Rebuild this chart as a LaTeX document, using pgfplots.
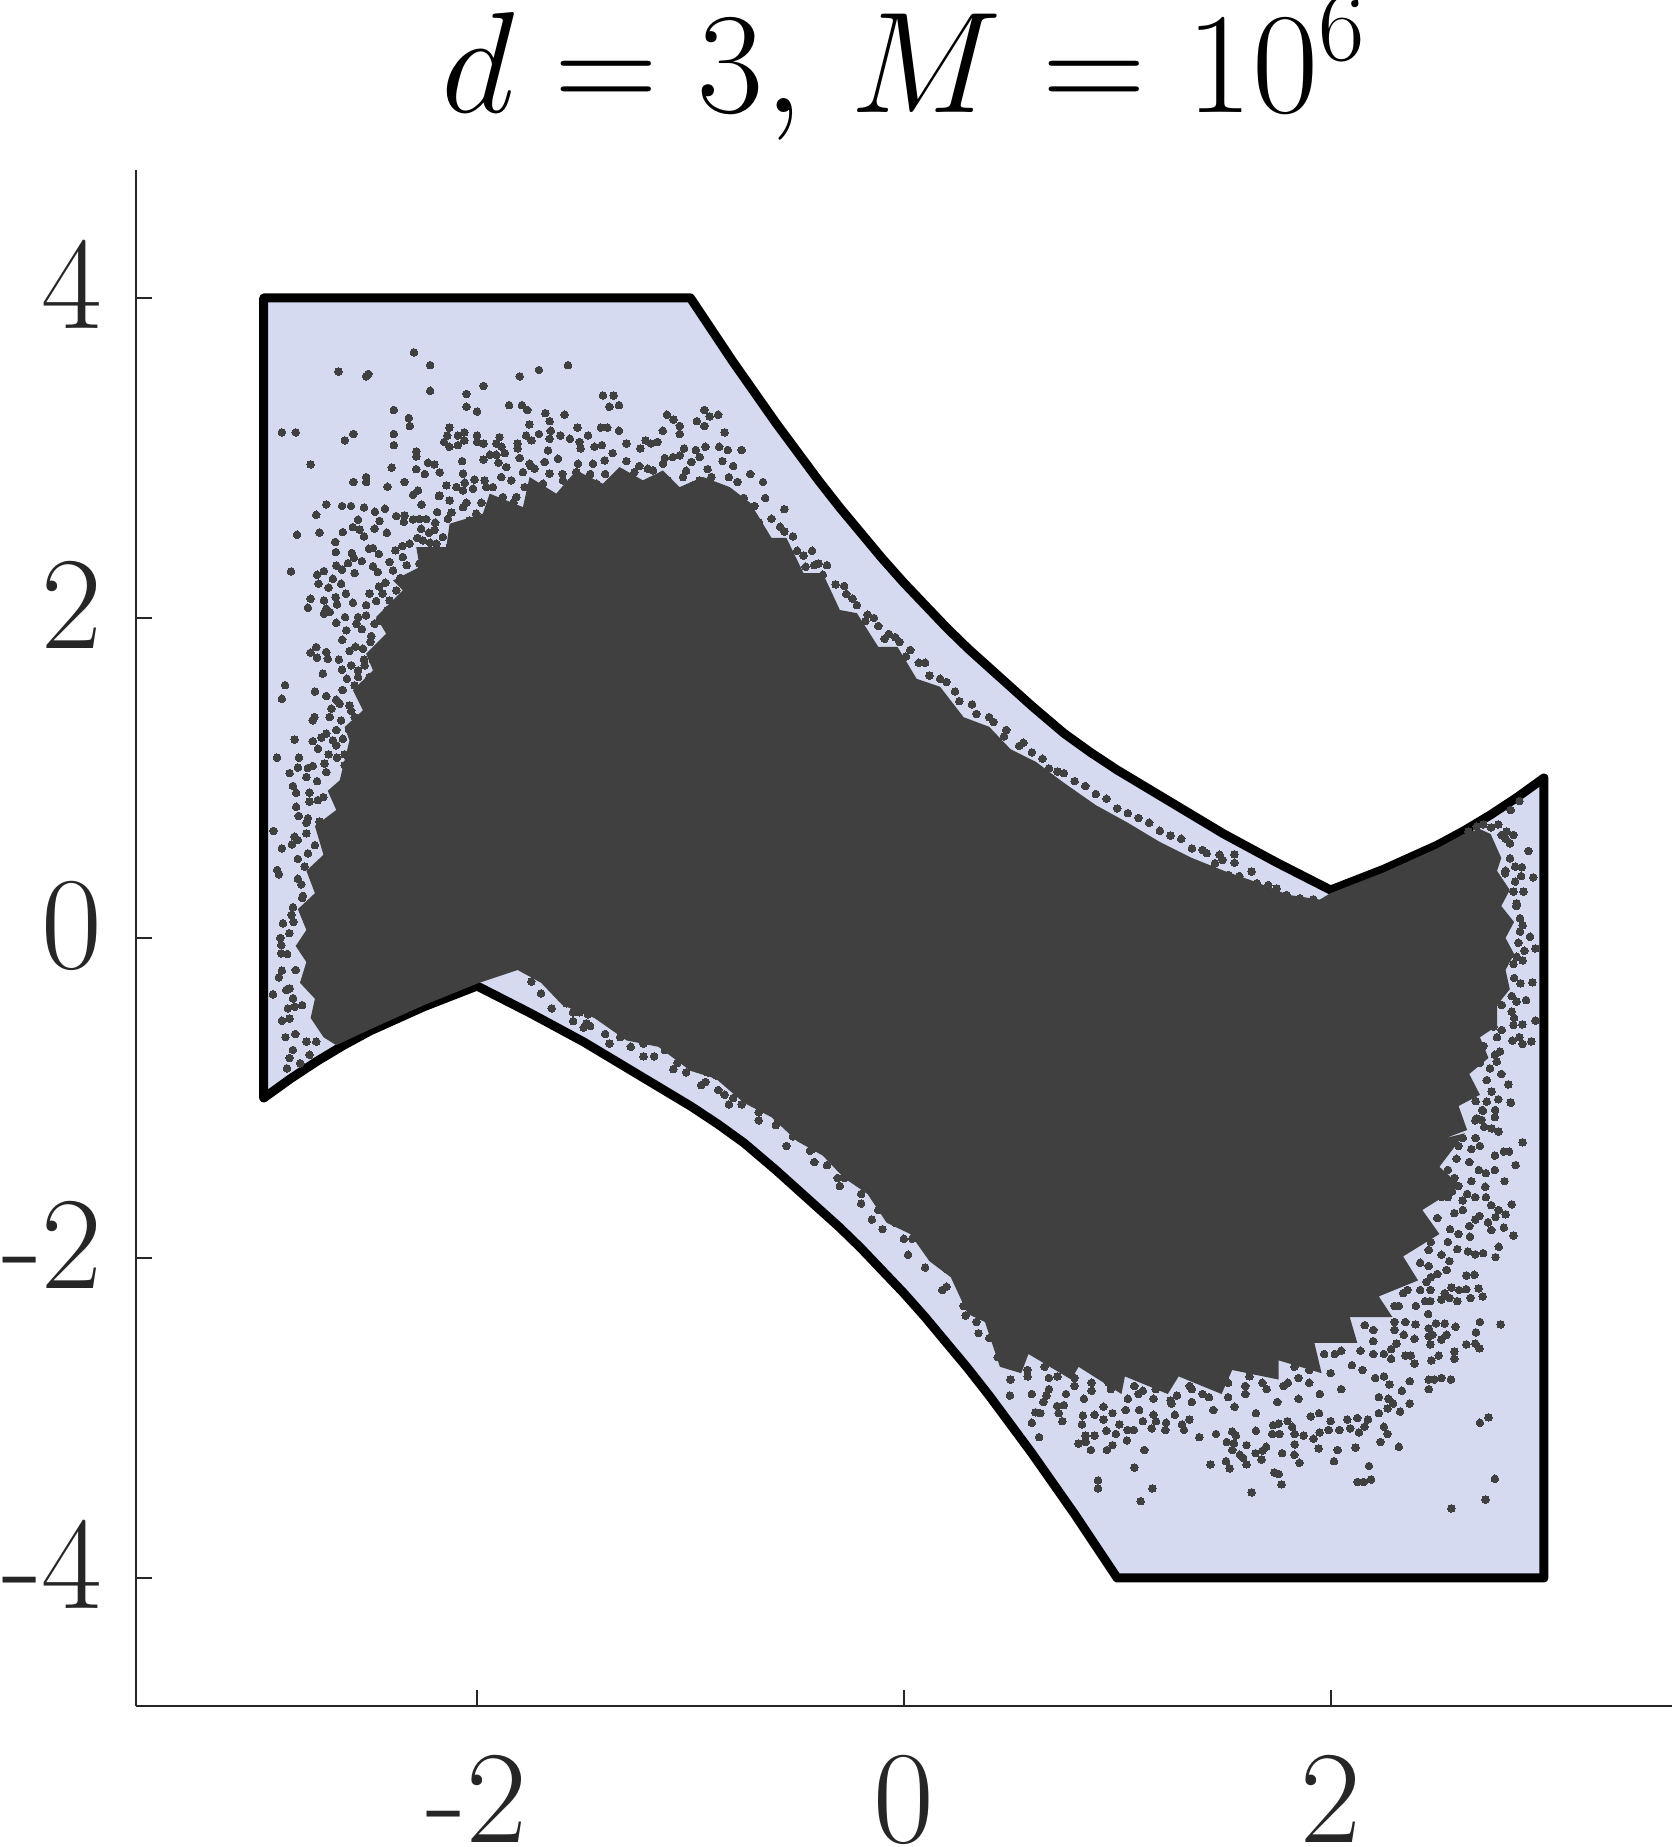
\RequirePackage{fix-cm}
\documentclass[border=0pt]{standalone}
\usepackage{pgfplots}
\pgfplotsset{compat=1.18}
\DeclareMathSizes{36}{36}{25.2}{18}
\definecolor{regionfill}{RGB}{213,218,241}
\definecolor{cloud}{RGB}{64,64,64}
\definecolor{axgray}{RGB}{38,38,38}
\begin{document}
\begin{tikzpicture}[x=1pt,y=1pt]
\path[use as bounding box] (0,0) rectangle (418,461.75);
\begin{axis}[
  at={(33.925pt,35.25pt)},anchor=south west,
  scale only axis,width=384.07pt,height=384pt,
  xmin=-3.6,xmax=3.6,ymin=-4.8,ymax=4.8,
  axis x line*=bottom,axis y line*=left,
  axis line style={-,draw=axgray,line width=0.5pt},
  tick style={draw=axgray,line width=0.5pt},
  tick align=inside,major tick length=4pt,
  xtick={-2,0,2},xticklabels={-2,0,2},
  ytick={-4,-2,0,2,4},yticklabels={-4,-2,0,2,4},
  ticklabel style={text=axgray,font=\fontsize{33}{33}\selectfont,inner sep=0pt,outer sep=0pt},
  xticklabel style={anchor=base,yshift=-34pt},
  yticklabel style={anchor=base east,xshift=-8.3pt,yshift=-7.7pt},
  clip=false,
]
% feasible region
\addplot[fill=regionfill,draw=black,line width=2.25pt,line join=round,line cap=round] coordinates {
(-3,4)(-1,4)(-.9,3.8)(-.8,3.6)(-.7,3.41)(-.6,3.22)(-.5,3.04)(-.4,2.86)(-.3,2.69)(-.2,2.53)(-.1,2.37)(0,2.22)(.1,2.08)(.2,1.94)(.3,1.81)(.4,1.69)(.5,1.57)(.6,1.45)(.75,1.28)(.875,1.16)(1,1.05)(1.125,.95)(1.25,.85)(1.375,.75)(1.5,.65)(1.625,.56)(1.75,.47)(1.875,.385)(2,.3)(2.125,.365)(2.25,.43)(2.375,.505)(2.5,.58)(2.625,.67)(2.75,.77)(2.875,.88)(3,1)
(3,-4)(1,-4)(.9,-3.8)(.8,-3.6)(.7,-3.41)(.6,-3.22)(.5,-3.04)(.4,-2.86)(.3,-2.69)(.2,-2.53)(.1,-2.37)(0,-2.22)(-.1,-2.08)(-.2,-1.94)(-.3,-1.81)(-.4,-1.69)(-.5,-1.57)(-.6,-1.45)(-.75,-1.28)(-.875,-1.16)(-1,-1.05)(-1.125,-.95)(-1.25,-.85)(-1.375,-.75)(-1.5,-.65)(-1.625,-.56)(-1.75,-.47)(-1.875,-.385)(-2,-.3)(-2.125,-.365)(-2.25,-.43)(-2.375,-.505)(-2.5,-.58)(-2.625,-.67)(-2.75,-.77)(-2.875,-.88)(-3,-1)(-3,4)};
% saturated part of the cloud
\addplot[fill=cloud,draw=none] coordinates {
(-2.644,.985)(-2.598,1.235)(-2.621,1.318)(-2.535,1.423)(-2.582,1.548)(-2.488,1.673)(-2.52,1.777)(-2.426,1.902)(-2.473,2.006)(-2.348,2.173)(-2.394,2.235)(-2.269,2.318)(-2.285,2.443)(-2.144,2.443)(-2.129,2.589)(-1.973,2.652)(-1.941,2.777)(-1.785,2.693)(-1.754,2.881)(-1.629,2.777)(-1.535,2.922)(-1.41,2.839)(-1.332,2.943)(-1.223,2.86)(-1.129,2.922)(-1.051,2.818)(-.941,2.881)(-.816,2.818)
(-.72,2.72)(-.62,2.5)(-.55,2.5)(-.47,2.28)(-.38,2.28)(-.3,2.05)(-.22,2.03)(-.12,1.82)(-.03,1.82)(.06,1.62)(.17,1.57)(.28,1.38)(.4,1.32)(.5,1.18)(.62,1.1)(.75,.97)(.9,.83)(1.05,.72)(1.2,.6)(1.35,.5)(1.5,.42)(1.65,.35)(1.8,.27)(1.95,.24)(2,.28)(2.25,.41)(2.5,.56)(2.625,.65)(2.7,.68)(2.75,.65)(2.8,.5)(2.78,.42)(2.84,.3)(2.8,.2)(2.86,.1)(2.82,0)(2.86,-.1)(2.82,-.2)(2.84,-.32)(2.78,-.42)(2.78,-.55)(2.7,-.62)(2.74,-.75)(2.65,-.85)(2.7,-.98)(2.6,-1.05)(2.64,-1.2)(2.54,-1.25)
(2.63,-1.22)(2.51,-1.43)(2.61,-1.55)(2.43,-1.7)(2.51,-1.85)(2.34,-1.99)(2.41,-2.14)(2.226,-2.24)(2.29,-2.37)(2.09,-2.37)(2.125,-2.53)(1.924,-2.53)(1.958,-2.72)(1.757,-2.64)(1.757,-2.76)(1.539,-2.7)(1.489,-2.85)(1.288,-2.74)(1.237,-2.85)(1.036,-2.74)(1.02,-2.85)(.819,-2.68)(.785,-2.76)(.584,-2.6)(.55,-2.72)(.45,-2.68)
(.38,-2.4)(.3,-2.35)(.22,-2.12)(.12,-2.02)(.03,-1.85)(-.08,-1.78)(-.17,-1.6)(-.28,-1.5)(-.38,-1.36)(-.5,-1.27)(-.62,-1.12)(-.75,-1.03)(-.88,-.88)(-1,-.83)(-1.15,-.68)(-1.3,-.64)(-1.45,-.5)(-1.6,-.42)(-1.7,-.28)(-1.81,-.2)(-1.99,-.28)(-2.25,-.42)(-2.5,-.57)(-2.66,-.67)
(-2.72,-.62)(-2.78,-.5)(-2.76,-.38)(-2.83,-.28)(-2.8,-.15)(-2.85,-.05)(-2.8,.05)(-2.84,.18)(-2.76,.28)(-2.8,.42)(-2.72,.52)(-2.76,.7)(-2.66,.8)(-2.7,.92)(-2.644,.985)};
% individual samples
\addplot[color=cloud,only marks,mark=*,mark size=0.95pt,mark options={solid,draw=cloud,fill=cloud,line width=0pt}] coordinates {
(-2.296,3.66)(-2.22,3.58)(-2.65,3.54)(-2.52,3.51)(-2.51,3.525)(-1.71,3.55)(-1.574,3.58)(-1.8,3.51)(-2.22,3.42)(-1.97,3.45)(-2.05,3.4)(-2.05,3.32)(-2,3.29)(-2.39,3.3)(-1.85,3.33)(-1.79,3.33)(-1.765,3.3)(-1.41,3.39)(-1.36,3.39)(-1.38,3.32)(-1.335,3.33)(-1.68,3.28)(-1.59,3.27)(-2.32,3.25)(-2.315,3.2)(-1.66,3.23)(-1.755,3.21)(-2.915,3.16)(-2.85,3.16)(-2.58,3.15)(-2.62,3.11)(-2.39,3.15)(-2.39,3.08)(-2.78,2.96)(-2.58,2.85)(-2.52,2.88)(-2.52,2.85)(-2.42,2.82)(-2.34,2.85)(-2.4,2.94)(-2.285,3.04)(-2.285,3.01)(-2.285,2.93)(-2.23,2.97)(-2.245,2.9)(-2.2,2.96)(-2.175,2.91)
(-2.13,3.19)(-2.14,3.14)(-2.09,3.14)(-2.06,3.16)(-2.155,3.1)(-2.09,3.08)(-2.06,3.11)(-2.13,3.07)(-2,3.14)(-2,3.1)(-1.97,3.09)(-2.07,2.98)(-1.895,3.13)(-1.91,3.09)(-1.885,3.07)(-1.87,3.03)(-1.91,3.02)(-1.94,3.02)(-1.97,2.99)(-1.9,2.97)(-1.81,3.09)(-1.81,3.06)(-1.8,3)(-1.77,3.14)(-1.745,3.11)(-1.71,3.15)(-1.66,3.12)(-1.61,3.14)(-1.565,3.12)(-1.655,3.17)(-1.53,3.19)(-1.42,3.19)(-1.39,3.19)(-1.335,3.17)(-1.48,3.14)(-1.52,3.1)(-1.515,3.06)(-1.45,3.07)(-1.415,3.08)(-1.3,3.09)(-1.365,3.03)(-1.235,3.06)(-1.21,3.11)(-1.155,3.1)(-1.185,3.09)(-1.13,3.17)(-1.11,3.27)(-1.08,3.24)(-1.05,3.2)(-1.05,3.15)(-.97,3.23)(-.935,3.3)(-.91,3.26)(-.87,3.27)(-.935,3.2)(-.84,3.16)(-.865,3.07)(-.825,3.05)(-.93,3.07)(-.975,3.05)(-1.03,3.06)(-.85,2.98)
(-1.129,2.964)(-1.082,3.006)(-1.05,3.016)(-.996,2.975)(-.957,3.006)(-1.2,2.933)(-1.176,2.923)(-1.262,2.912)(-1.324,2.902)(-1.402,2.985)(-1.457,2.964)(-1.527,2.964)(-1.535,2.912)(-1.621,2.995)(-1.668,3.047)(-1.683,2.975)(-1.66,2.902)(-1.73,2.933)(-1.754,2.964)(-1.785,2.912)(-1.863,2.943)(-1.84,2.86)(-1.887,2.881)(-1.965,2.86)(-2.012,2.864)(-2.066,2.902)(-2.058,2.845)(-2.144,2.829)(-2.097,2.818)(-2.176,2.766)(-2.129,2.735)(-2.066,2.797)(-2.019,2.808)(-1.957,2.818)(-1.926,2.818)(-1.879,2.756)(-1.816,2.756)(-1.777,2.818)(-1.746,2.777)(-1.691,2.839)(-1.598,2.86)(-1.52,2.818)(-1.441,2.839)(-1.363,2.86)(-1.277,2.881)(-1.191,2.839)(-1.105,2.86)(-1.035,2.881)(-.957,2.86)(-.902,2.881)(-.832,2.797)(-.91,2.808)(-.988,2.829)(-1.066,2.787)(-1.144,2.808)
(-2.066,2.693)(-2.004,2.652)(-2.035,2.61)(-2.066,2.548)(-2.16,2.506)(-2.191,2.464)(-2.129,2.443)(-2.254,2.485)(-2.316,2.464)(-2.348,2.381)(-2.27,2.339)(-2.207,2.381)(-2.394,2.297)(-2.316,2.235)(-2.379,2.172)(-2.41,2.11)(-2.473,1.8)(-2.41,1.881)(-2.488,1.735)(-2.504,1.631)(-2.535,1.527)(-2.52,1.318)(-2.566,1.256)(-2.566,1.131)
(-2.938,1.127)(-2.9,1.58)(-2.915,1.495)(-2.872,2.29)(-2.844,2.52)(-2.754,2.645)(-2.707,2.71)(-2.633,2.7)(-2.591,2.7)(-2.53,2.69)(-2.479,2.664)(-2.432,2.683)(-2.738,2.533)(-2.629,2.537)(-2.665,2.475)(-2.662,2.412)(-2.587,2.406)(-2.577,2.375)(-2.54,2.356)(-2.605,2.343)(-2.558,2.614)(-2.582,2.568)(-2.55,2.552)(-2.53,2.51)(-2.457,2.606)(-2.48,2.558)(-2.423,2.533)(-2.379,2.637)(-2.34,2.641)(-2.343,2.6)(-2.3,2.616)(-2.27,2.618)(-2.238,2.618)(-2.262,2.558)(-2.226,2.533)(-2.187,2.662)(-2.196,2.595)(-2.137,2.62)(-2.277,2.797)(-2.3,2.77)(-2.26,2.708)(-2.179,2.762)
(-2.75,2.27)(-2.718,2.293)(-2.676,2.245)(-2.743,2.214)(-2.696,2.189)(-2.637,2.214)(-2.66,2.327)(-2.633,2.302)(-2.574,2.281)(-2.663,2.13)(-2.615,2.152)(-2.78,2.12)(-2.793,2.064)(-2.718,2.11)(-2.657,2.085)(-2.582,2.095)(-2.707,2.058)(-2.718,2.027)(-2.691,2.037)(-2.507,2.433)(-2.488,2.437)(-2.46,2.4)(-2.383,2.423)(-2.488,2.323)(-2.465,2.287)(-2.504,2.152)(-2.473,2.106)(-2.444,2.152)(-2.46,2.197)(-2.619,2.006)(-2.66,1.97)(-2.558,2.006)(-2.52,2.016)(-2.566,1.964)(-2.48,1.964)(-2.613,1.923)(-2.632,1.864)(-2.496,1.887)
(-2.754,1.818)(-2.78,1.783)(-2.75,1.752)(-2.707,1.787)(-2.7,1.745)(-2.598,1.793)(-2.535,1.808)(-2.648,1.74)(-2.633,1.677)(-2.723,1.652)(-2.59,1.704)(-2.558,1.672)(-2.527,1.704)(-2.76,1.54)(-2.707,1.512)(-2.66,1.489)(-2.644,1.464)(-2.598,1.454)(-2.574,1.579)(-2.558,1.631)(-2.683,1.433)(-2.691,1.381)(-2.77,1.36)(-2.762,1.381)(-2.637,1.36)(-2.574,1.381)(-2.855,1.24)(-2.77,1.23)(-2.707,1.277)(-2.73,1.252)(-2.676,1.235)(-2.629,1.245)(-2.66,1.204)(-2.746,1.183)(-2.835,1.127)(-2.696,1.148)(-2.621,1.148)(-2.657,1.127)(-2.879,1.03)(-2.84,1.065)(-2.793,1.062)(-2.77,1.075)(-2.715,1.09)(-2.707,1.037)(-2.8,1.006)(-2.621,1.08)
(-2.954,.669)(-2.915,.56)(-2.84,.494)(-2.937,.425)(-2.929,.398)(-2.824,.335)(-2.816,.263)(-2.863,.192)(-2.87,.144)(-2.91,.092)(-2.922,0)(-2.918,-.044)(-2.918,-.096)(-2.915,-.204)(-2.929,-.246)(-2.957,-.352)(-2.879,-.315)(-2.894,-.325)(-2.863,-.377)(-2.887,-.44)(-2.855,-.43)(-2.915,-.517)(-2.879,-.504)(-2.898,-.62)(-2.852,-.6)(-2.863,-.7)(-2.879,-.75)(-2.891,-.815)(-2.829,-.783)(-2.785,-.73)(-2.8,-.648)(-2.754,-.648)(-2.848,.82)(-2.836,.763)(-2.785,.852)(-2.746,.862)(-2.793,.748)(-2.738,.727)(-2.855,.633)(-2.84,.612)(-2.868,.585)(-2.8,.654)(-2.793,.529)(-2.808,.446)(-2.848,.908)(-2.863,.95)(-2.785,.908)
(-1.7,-.346)(-1.746,-.273)(-1.582,-.408)(-1.535,-.398)(-1.55,-.465)(-1.52,-.465)(-1.48,-.477)(-1.488,-.533)(-1.44,-.47)(-1.37,-.51)
% upper right band
(-.8,2.95)(-.78,2.85)(-.75,2.75)(-.82,2.7)(-.72,2.9)(-.7,2.7)(-.68,2.6)(-.65,2.75)(-.62,2.62)(-.58,2.57)(-.52,2.51)(-.47,2.39)(-.42,2.33)(-.38,2.27)(-.32,2.21)(-.27,2.15)(-.22,2.08)(-.17,2.02)(-.12,1.95)(-.07,1.9)(-.02,1.85)(.03,1.8)(.1,1.72)(.17,1.62)(.24,1.54)(.32,1.46)(.4,1.38)(.48,1.3)(.56,1.22)(.65,1.12)(.75,1.03)(.85,.95)(.95,.87)(1.05,.78)(1.15,.72)(1.25,.64)(1.35,.56)(1.48,.52)(-.76,3.05)(-.66,2.85)(-.56,2.68)(-.43,2.42)
(1.549,.523)(1.493,.488)(1.419,.53)(1.458,.467)(1.521,.394)(1.572,.387)(1.63,.415)(1.654,.342)(1.708,.331)(1.747,.31)(1.794,.269)(1.857,.248)(1.919,.242)
% right side
(2.885,.856)(2.844,.8)(2.927,.544)(2.95,.379)(2.904,.29)(2.865,.446)(2.896,.442)(2.893,.387)(2.786,.71)(2.752,.69)(2.716,.71)(2.685,.696)(2.646,.665)(2.825,.665)(2.802,.644)(2.857,.644)(2.841,.59)(2.841,.498)(2.818,.404)(2.865,.352)(2.857,.29)(2.872,.217)(2.888,.123)(2.888,.04)(2.935,.008)(2.96,-.065)(2.908,-.08)(2.872,-.117)(2.857,-.163)(2.89,-.283)(2.946,-.277)(2.849,-.363)(2.872,-.398)(2.916,-.388)(2.802,-.419)(2.849,-.46)(2.857,-.544)(2.899,-.54)(2.96,-.517)(2.763,-.554)(2.802,-.575)(2.852,-.642)(2.885,-.62)(2.899,-.662)(2.941,-.646)(2.716,-.675)(2.794,-.71)(2.77,-.73)(2.779,-.773)(2.747,-.815)(2.833,-.915)(2.844,-1.027)(2.732,-.888)(2.755,-.96)(2.786,-1.008)(2.732,-1.023)(2.771,-1.075)(2.713,-1.08)(2.685,-1.127)(2.755,-1.19)(2.786,-1.21)(2.708,-1.137)(2.669,-.97)
% lower right fan
(2.566,-3.565)(2.726,-3.51)(2.77,-3.38)(2.7,-3.03)(2.74,-2.996)(1.11,-3.52)(1.165,-3.44)(.91,-3.39)(.91,-3.44)(1.08,-3.31)(1.63,-3.465)(1.77,-3.415)(1.736,-3.34)(1.757,-3.35)(2.127,-3.4)(2.155,-3.4)(2.19,-3.385)(2.18,-3.3)(1.437,-3.29)(1.51,-3.27)(1.527,-3.315)(1.606,-3.29)(1.59,-3.25)(1.575,-3.23)(1.676,-3.26)(1.648,-3.22)(1.854,-3.28)(1.83,-3.23)(1.773,-3.22)(2.016,-3.27)(1.944,-3.19)(2.033,-3.2)(2.117,-3.185)(2.32,-3.18)(2.234,-3.15)(1.127,-3.2)(.877,-3.2)(.952,-3.2)(.978,-3.17)(.819,-3.16)(.852,-3.15)(1.045,-3.14)(.634,-3.12)(.6,-3.03)(.617,-2.965)(.64,-2.97)(.743,-3.02)(.726,-2.97)(.718,-2.925)(.497,-2.86)(.6,-2.85)(.668,-2.86)(.654,-2.9)(.76,-2.85)(.75,-2.92)(.844,-2.88)(.839,-2.985)(.835,-3.04)(.894,-2.98)(.936,-3.01)(.852,-3.11)(.894,-3.11)(.949,-3.08)(.994,-3.1)(1.048,-3.075)(1.078,-3.075)(1.01,-3.04)(1.04,-2.95)(.936,-2.93)(.978,-2.97)(1.12,-3.02)(1.162,-3.065)(1.182,-3.02)(1.225,-3.075)(1.103,-2.95)(1.17,-2.98)(1.229,-3.03)(1.254,-2.91)(1.27,-2.98)(1.304,-3.04)(1.338,-3.01)(1.313,-3.075)(1.385,-3.12)(1.463,-3.1)(1.539,-3.085)(1.556,-3.11)(1.514,-3.15)(1.547,-3.16)(1.539,-3.2)(1.606,-3.17)(1.698,-3.18)(1.681,-3.205)(1.65,-3.08)(1.731,-3.045)(1.757,-3.035)(1.726,-3.1)(1.76,-3.1)(1.798,-3.02)(1.82,-3.055)(1.832,-3.1)(1.874,-3.11)(1.92,-3.13)(1.832,-3.165)(1.949,-3.09)(1.991,-3.075)(2.041,-3.075)(2.092,-3.065)(2.133,-3.09)(2.159,-3.055)(1.907,-2.99)(1.946,-2.97)(2,-3.02)(2.125,-3)(2.175,-3.01)(2.078,-3.01)(2.226,-2.97)(2.25,-3.055)(2.267,-3.1)(2.326,-2.96)(2.371,-2.91)(2.293,-2.91)(2.267,-2.94)(2.226,-2.87)(2.271,-2.88)
(2.334,-2.83)(2.371,-2.77)(2.276,-2.79)(2.209,-2.75)(2.25,-2.74)(2.46,-2.82)(2.46,-2.76)(2.485,-2.76)(2.52,-2.75)(2.564,-2.76)(2.393,-2.66)(2.351,-2.61)(2.376,-2.61)(2.472,-2.64)(2.507,-2.61)(2.58,-2.63)(2.58,-2.585)(2.468,-2.54)(2.636,-2.54)(2.678,-2.535)(2.698,-2.565)(2.46,-2.49)(2.477,-2.48)(2.519,-2.51)(2.544,-2.48)(2.393,-2.505)(2.343,-2.48)(2.309,-2.535)(2.284,-2.57)(2.284,-2.63)(2.681,-2.465)(2.7,-2.4)(2.797,-2.415)(2.46,-2.44)(2.494,-2.41)(2.535,-2.41)(2.586,-2.43)(2.398,-2.415)(2.457,-2.35)(2.519,-2.26)(2.557,-2.25)(2.594,-2.27)(2.656,-2.25)(2.713,-2.24)(2.694,-2.19)(2.636,-2.195)(2.602,-2.2)(2.566,-2.185)(2.535,-2.22)(2.636,-2.11)(2.674,-2.105)(2.544,-2.075)(2.557,-2.02)(2.468,-2.2)(2.443,-2.27)(2.468,-2.27)(2.773,-1.995)(2.788,-1.93)(2.715,-1.97)(2.678,-1.977)(2.644,-1.96)(2.594,-1.945)(2.857,-1.86)(2.812,-1.81)(2.753,-1.825)(2.653,-1.867)(2.678,-1.76)(2.698,-1.737)(2.738,-1.777)(2.82,-1.727)(2.773,-1.745)(2.849,-1.665)(2.815,-1.52)(2.867,-1.42)(2.9,-1.277)(2.753,-1.67)(2.787,-1.7)(2.678,-1.62)(2.728,-1.62)(2.619,-1.64)(2.569,-1.585)(2.725,-1.555)(2.812,-1.335)(2.837,-1.335)(2.77,-1.45)(2.728,-1.47)(2.695,-1.45)(2.77,-1.36)(2.787,-1.21)(2.77,-1.12)(2.845,-1.03)(2.711,-1.075)(2.678,-1.14)
% lower left band and under-fan
(-1.25,-.58)(-1.09,-.66)(-.92,-.84)(-.87,-.95)(-.59,-1.14)(-.43,-1.32)(-.31,-1.5)(-.15,-1.76)(.02,-1.98)(.18,-2.2)(.29,-2.36)(.35,-2.47)(-1.55,-.52)(-1.47,-.55)(-1.4,-.6)(-1.33,-.62)(-1.28,-.68)(-1.22,-.66)(-1.17,-.74)(-1.12,-.7)(-1.06,-.78)(-1.02,-.84)(-.98,-.8)(-.93,-.9)(-.88,-.86)(-.84,-.98)(-.8,-1)(-.76,-1.04)(-.72,-.98)(-.68,-1.09)(-.64,-1.05)(-.6,-1.17)(-.56,-1.12)(-.52,-1.24)(-.48,-1.2)(-.44,-1.33)(-.4,-1.28)(-.36,-1.42)(-.32,-1.37)(-.28,-1.5)(-.24,-1.45)(-.2,-1.6)(-.16,-1.55)(-.12,-1.7)(-.08,-1.63)(-.04,-1.78)(0,-1.72)(.04,-1.88)(.08,-1.8)(.12,-1.97)(.16,-1.9)(.2,-2.07)(.24,-2)(.28,-2.2)(.32,-2.12)(.36,-2.32)(.4,-2.22)(.43,-2.45)(.47,-2.35)(.5,-2.55)(.55,-2.45)(.58,-2.7)(.63,-2.6)(.68,-2.75)(.72,-2.55)
(1.1,-2.85)(1.35,-2.9)(1.4,-2.85)(1.45,-2.95)(1.55,-2.93)(1.6,-2.85)(1.65,-2.97)(1.7,-2.82)(1.75,-2.9)(1.8,-2.78)(1.85,-2.88)(1.9,-2.78)(1.95,-2.85)(2,-2.72)(2.05,-2.82)(2.1,-2.67)(2.15,-2.7)(2.2,-2.6)(2.25,-2.6)(2.3,-2.45)(2.35,-2.4)(2.4,-2.3)(2.45,-2.15)(2.5,-2.1)(2.55,-1.9)(2.6,-1.85)(2.65,-1.8)(2.6,-1.55)(2.55,-1.45)(2.65,-1.4)(2.7,-1.3)(2.62,-1.25)
(.68,-2.82)(.8,-2.8)(.88,-2.78)(.97,-2.82)(1.08,-2.8)(1.17,-2.88)(1.28,-2.86)(1.34,-2.8)(1.44,-2.79)(1.52,-2.78)(1.62,-2.74)(1.68,-2.7)(1.83,-2.68)(1.88,-2.62)(2.02,-2.6)(2.14,-2.58)(2.2,-2.45)(2.3,-2.3)(2.34,-2.22)(2.42,-2.2)(2.46,-2.05)(2.52,-1.98)(2.47,-1.9)(2.58,-1.72)(2.62,-1.7)(2.55,-1.62)(2.66,-1.52)(2.59,-1.38)(2.68,-1.25)
% along the edge of the saturated part
(-2.6,1.08)(-2.56,1.15)(-2.66,1.3)(-2.6,1.3)(-2.59,1.42)(-2.63,1.55)(-2.61,1.62)(-2.53,1.74)(-2.57,1.82)(-2.5,1.85)(-2.54,1.93)(-2.46,1.98)(-2.52,2.08)(-2.42,2.05)(-2.43,2.22)(-2.36,2.25)(-2.41,2.35)(-2.33,2.33)(-2.35,2.45)(-2.28,2.5)(-2.22,2.47)(-2.2,2.55)(-2.12,2.66)(-2.05,2.72)(-1.98,2.72)(-1.9,2.73)(-1.83,2.72)(-1.75,2.95)(-1.72,2.8)(-1.6,2.9)(-1.56,2.85)(-1.47,2.9)(-1.4,2.9)(-1.3,2.98)(-1.24,2.95)(-1.12,3)(-1.02,2.92)(-.92,2.93)(-.82,2.88)
(-.76,2.62)(-.68,2.5)(-.64,2.42)(-.56,2.54)(-.5,2.42)(-.46,2.32)(-.4,2.34)(-.36,2.33)(-.28,2.2)(-.24,2.12)(-.18,1.98)(-.14,2)(-.09,1.87)(-.04,1.88)(.01,1.76)(.07,1.72)(.12,1.64)(.2,1.6)(.26,1.48)(.34,1.4)(.42,1.35)(.47,1.26)(.54,1.2)(.6,1.16)(.68,1.06)(.72,1.04)(.8,.98)(.9,.9)(1,.81)(1.1,.75)(1.2,.67)(1.3,.62)(1.4,.55)(1.55,.47)
(2.82,.62)(2.82,.42)(2.87,.2)(2.9,.08)(2.88,-.03)(2.9,-.14)(2.86,-.25)(2.86,-.5)(2.78,-.62)(2.8,-.85)(2.7,-.78)(2.68,-1.02)(2.72,-1.18)(2.66,-1.32)(2.6,-1.3)(2.58,-1.5)(2.64,-1.6)(2.52,-1.62)(2.5,-1.75)(2.56,-1.82)(2.46,-1.95)(2.42,-2.03)(2.47,-2.12)(2.36,-2.2)(2.32,-2.3)(2.3,-2.4)(2.16,-2.42)(2.2,-2.52)(2.07,-2.5)(2.05,-2.58)(1.97,-2.6)(1.9,-2.7)(1.85,-2.75)(1.78,-2.8)(1.68,-2.78)(1.6,-2.8)(1.52,-2.87)(1.43,-2.87)(1.35,-2.82)(1.25,-2.89)(1.18,-2.82)(1.12,-2.83)(1.05,-2.88)(.96,-2.78)(.88,-2.83)(.8,-2.75)(.72,-2.74)(.66,-2.68)(.58,-2.74)(.5,-2.76)(.44,-2.62)(.4,-2.5)(.34,-2.4)(.28,-2.3)(.2,-2.18)(.1,-2.06)(0,-1.88)(-.1,-1.82)(-.2,-1.66)(-.3,-1.55)(-.42,-1.4)(-.55,-1.3)(-.68,-1.14)(-.82,-1.04)(-.95,-.92)(-1.08,-.82)(-1.22,-.74)(-1.38,-.66)(-1.5,-.56)(-1.65,-.44)
(-2.82,-.42)(-2.85,-.2)(-2.89,-.1)(-2.88,.03)(-2.86,.1)(-2.82,.25)(-2.84,.37)(-2.76,.58)(-2.8,.72)(-2.72,.88)(-2.75,.98)
};
\node[anchor=base,inner sep=0pt,font=\fontsize{36}{36}\selectfont] at (axis cs:0,4.8) [yshift=14.25pt] {$d=3,\,M=10^6$};
\end{axis}
\end{tikzpicture}
\end{document}
